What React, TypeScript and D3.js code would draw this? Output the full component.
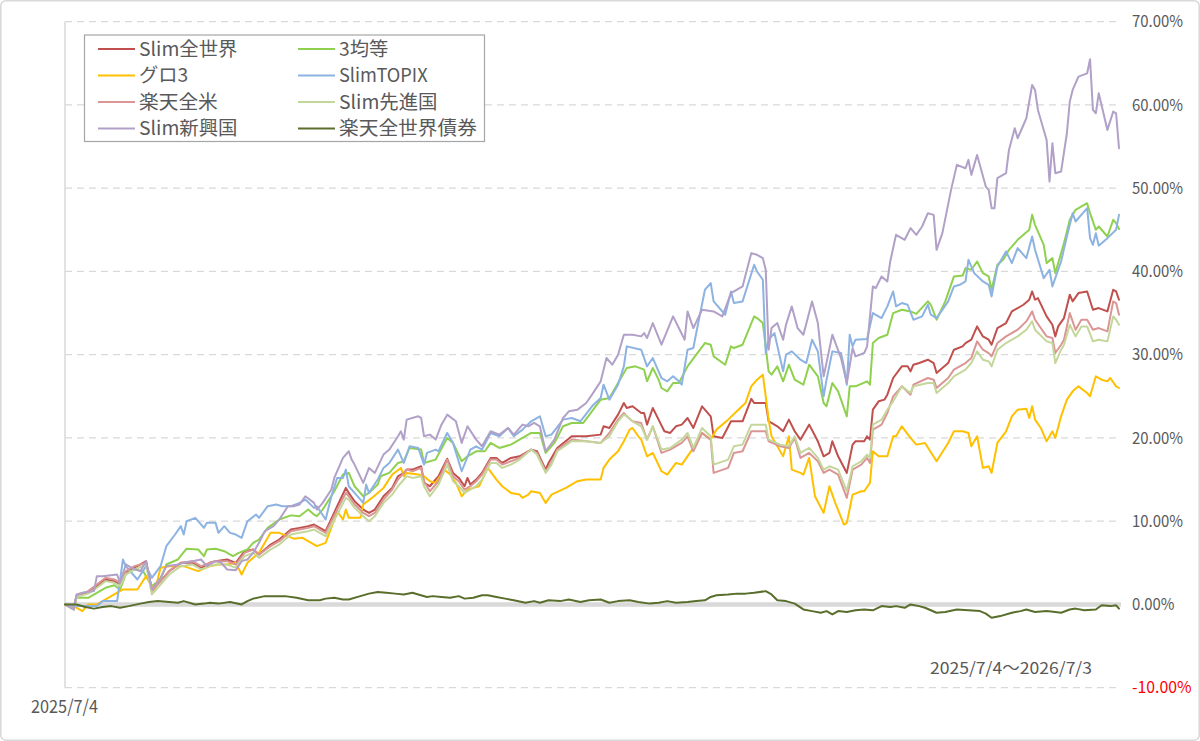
import React from "react";
import * as d3 from "d3";

// ---- data: [days since 2025/7/4, % return] ----
const START = new Date(2025, 6, 4);
const END = new Date(2026, 6, 3);
const yTicks = [-10, 0, 10, 20, 30, 40, 50, 60, 70];
const startLabel = "2025/7/4";
const rangeLabel = "2025/7/4～2026/7/3";

const slimWorld: [number, number][] = [[0,0],[3,-0.6],[4,1.0],[8,1.4],[11,2.2],[14,3.0],[17,2.8],[19,2.4],[21,3.8],[24,4.4],[28,5.2],[30,1.8],[33,2.8],[36,4.0],[40,5.0],[44,5.0],[47,4.4],[50,5.0],[52,5.2],[56,5.4],[59,5.0],[62,6.4],[65,6.6],[67,6.0],[71,7.2],[74,7.8],[78,9.0],[81,9.2],[84,9.4],[86,9.6],[88,9.2],[90,8.8],[94,11.8],[97,14.0],[98,13.4],[100,12.4],[103,11.4],[105,11.0],[107,11.4],[110,13.0],[113,14.0],[115,15.4],[117,15.8],[118,16.2],[120,16.2],[123,16.6],[124,14.6],[126,14.2],[129,15.4],[132,17.5],[134,15.8],[136,15.2],[138,14.2],[139,15.2],[140,14.4],[142,15.0],[144,15.8],[147,17.6],[149,17.6],[151,17.0],[154,17.6],[157,17.8],[161,18.6],[163,18.4],[166,16.2],[167,17.0],[170,18.8],[175,20.2],[180,20.2],[185,20.4],[186,21.4],[188,21.2],[191,22.8],[193,24.2],[194,23.6],[196,23.8],[199,23.0],[200,23.0],[201,21.6],[203,23.6],[205,22.2],[207,20.8],[209,20.6],[211,21.4],[213,21.6],[215,22.4],[217,21.2],[220,23.8],[223,22.6],[224,20.2],[227,20.0],[230,22.0],[234,22.0],[237,24.7],[238,24.2],[242,24.2],[243,22.0],[244,21.8],[246,21.4],[248,20.8],[250,22.2],[252,20.8],[254,19.8],[257,21.6],[260,19.6],[262,17.8],[264,18.2],[265,19.6],[267,17.8],[270,15.8],[272,19.2],[273,19.6],[276,19.6],[277,20.2],[278,19.8],[279,23.4],[281,24.4],[283,24.6],[284,25.2],[286,27.2],[289,28.6],[291,28.6],[292,28.0],[293,28.8],[295,29.0],[298,29.4],[300,29.0],[301,27.8],[305,29.0],[307,30.6],[310,31.0],[311,31.4],[313,31.8],[315,33.4],[317,32.2],[319,31.8],[320,31.2],[322,33.2],[325,33.8],[327,35.2],[331,36.0],[333,36.6],[334,37.6],[335,36.6],[336,36.8],[339,34.6],[341,33.6],[342,32.2],[343,33.4],[345,34.4],[347,37.2],[348,36.4],[350,37.4],[353,37.6],[355,35.4],[357,35.6],[360,35.2],[362,37.8],[363,37.6],[364,36.6]];

const equal3: [number, number][] = [[0,0],[3,-0.2],[4,0.8],[8,0.8],[11,1.4],[14,2.0],[17,2.3],[19,1.8],[21,3.6],[24,4.2],[27,4.0],[30,2.2],[33,3.0],[35,4.8],[39,5.4],[42,6.7],[46,6.6],[48,5.8],[49,6.6],[52,6.7],[55,6.4],[58,5.8],[60,6.2],[63,6.6],[65,7.4],[67,7.8],[70,9.2],[74,10.2],[78,10.7],[81,10.6],[84,11.4],[86,10.8],[87,10.6],[89,11.4],[93,13.6],[96,15.6],[98,15.8],[100,14.2],[103,13.0],[105,13.4],[108,14.4],[109,15.4],[112,15.8],[115,17.0],[117,17.2],[119,18.8],[123,18.6],[124,17.0],[128,17.4],[132,20.0],[134,19.4],[137,17.2],[139,17.8],[142,18.4],[145,18.4],[147,19.4],[150,18.8],[154,19.2],[158,20.0],[161,20.6],[164,20.6],[166,18.2],[169,19.4],[172,21.4],[175,21.8],[179,21.8],[185,24.6],[188,24.8],[191,26.6],[194,28.4],[197,28.6],[200,28.2],[201,26.8],[203,28.4],[205,27.0],[206,26.0],[208,25.6],[210,26.6],[212,26.6],[215,28.6],[218,30.0],[221,31.4],[223,31.2],[224,29.8],[228,28.8],[230,31.0],[231,30.8],[234,31.2],[238,34.6],[239,34.4],[241,33.8],[243,28.0],[244,27.6],[246,28.6],[248,26.8],[250,28.8],[252,27.0],[255,26.4],[257,28.8],[260,27.4],[262,24.2],[263,23.8],[265,26.6],[267,25.6],[270,22.6],[271,26.2],[273,26.2],[277,26.8],[278,26.4],[279,31.4],[281,32.0],[284,32.4],[286,35.0],[289,35.4],[292,35.2],[294,34.9],[298,36.4],[299,36.0],[301,34.2],[304,36.4],[307,39.4],[310,39.5],[311,40.4],[313,40.2],[315,41.2],[317,39.8],[319,39.4],[320,37.8],[322,40.8],[324,41.4],[326,42.6],[329,43.8],[331,44.4],[333,45.0],[334,46.8],[335,45.6],[338,43.2],[339,41.0],[341,41.6],[342,39.8],[345,43.4],[347,46.2],[349,47.4],[353,48.2],[354,47.0],[356,45.0],[357,45.4],[360,44.2],[362,46.2],[363,45.8],[364,45.1]];

const growth3: [number, number][] = [[0,0],[3,-0.2],[6,-0.8],[8,0],[11,0],[13,0.4],[17,1.2],[20,1.8],[25,1.8],[28,3.4],[31,1.6],[33,4.4],[36,4.6],[41,4.6],[46,4.0],[50,4.6],[53,4.8],[56,4.8],[59,5.0],[61,3.6],[63,5.0],[67,6.2],[71,8.6],[74,8.6],[79,7.9],[82,8.0],[87,7.0],[90,7.4],[93,10.2],[94,11.2],[96,10.2],[97,11.4],[98,10.4],[102,10.4],[103,12.0],[106,12.8],[110,14.0],[113,15.6],[116,16.4],[117,15.4],[118,15.8],[122,15.6],[124,15.4],[126,14.8],[128,14.6],[131,16.2],[133,15.6],[135,14.6],[137,13.0],[139,13.8],[141,14.0],[143,14.2],[146,16.4],[149,15.0],[151,14.2],[154,13.4],[157,13.2],[158,12.8],[160,13.2],[161,13.6],[164,13.4],[166,12.2],[168,13.2],[173,14.0],[177,14.8],[180,15.0],[185,15.0],[186,16.4],[188,17.4],[191,18.4],[193,19.6],[195,21.0],[196,21.2],[198,20.2],[199,19.8],[201,17.8],[203,18.2],[206,16.0],[208,15.6],[211,17.0],[213,16.8],[217,18.8],[220,20.6],[223,19.8],[224,20.4],[225,21.0],[229,22.2],[232,23.2],[235,24.2],[237,26.2],[239,27.0],[241,27.6],[242,25.0],[243,22.2],[244,20.2],[246,19.0],[248,17.8],[250,20.2],[251,16.2],[254,15.8],[255,15.6],[257,17.6],[259,13.0],[262,11.0],[264,14.2],[266,12.2],[269,9.6],[270,9.8],[272,13.2],[275,13.6],[276,13.6],[278,14.6],[279,18.4],[281,17.8],[284,17.8],[286,20.2],[287,20.2],[289,21.4],[292,20.0],[294,19.2],[297,19.4],[301,17.2],[305,19.4],[307,20.8],[310,20.8],[312,20.6],[313,19.0],[315,20.2],[317,16.4],[319,16.6],[320,15.8],[322,19.4],[325,20.8],[327,22.6],[329,23.4],[332,23.5],[333,22.4],[334,23.8],[335,22.2],[337,21.2],[339,19.6],[341,20.8],[342,20.0],[344,22.6],[346,24.6],[348,25.6],[350,26.2],[353,25.4],[354,25.0],[356,27.4],[358,27.0],[360,26.8],[361,27.2],[363,26.2],[364,26.0]];

const slimTopix: [number, number][] = [[0,0],[3,-0.2],[6,-0.2],[11,-0.2],[13,0.4],[18,0.4],[20,5.4],[21,4.6],[25,3.0],[28,4.6],[30,3.2],[33,4.6],[35,7.0],[38,8.4],[40,9.4],[41,8.4],[42,10.0],[45,10.4],[48,9.2],[49,9.8],[52,9.8],[53,8.6],[55,9.4],[57,8.6],[59,8.4],[61,8.0],[63,10.0],[66,10.8],[67,10.4],[70,11.8],[73,12.0],[75,11.8],[78,11.8],[81,12.2],[83,12.6],[86,11.6],[87,11.8],[90,10.2],[92,13.0],[94,15.2],[96,15.2],[97,16.2],[98,14.2],[100,13.4],[103,12.2],[104,14.4],[105,13.4],[108,15.0],[110,16.4],[112,17.0],[115,18.6],[117,17.0],[119,19.0],[122,18.8],[124,16.8],[125,18.2],[128,18.6],[129,18.4],[132,20.6],[134,19.4],[137,16.0],[140,18.6],[142,19.0],[144,18.6],[147,20.6],[150,20.2],[153,21.2],[155,20.2],[158,21.0],[161,22.0],[164,22.6],[166,20.2],[168,20.4],[172,22.2],[175,22.4],[178,22.0],[182,23.8],[185,24.8],[186,26.4],[188,24.6],[191,26.4],[193,28.6],[194,31.0],[199,30.6],[201,28.6],[203,29.6],[205,28.0],[206,27.2],[208,26.8],[210,27.4],[212,26.8],[213,26.4],[215,30.6],[217,30.8],[218,32.6],[221,37.8],[223,38.6],[224,36.4],[228,34.8],[230,37.6],[231,36.2],[234,36.4],[238,40.8],[239,40.0],[241,39.0],[242,30.2],[243,31.8],[245,32.6],[248,28.0],[249,30.0],[251,30.4],[254,29.4],[256,29.0],[258,31.8],[260,30.4],[262,25.0],[263,27.0],[265,30.4],[268,30.2],[269,28.6],[270,26.4],[271,32.4],[272,31.0],[273,31.8],[277,31.9],[279,35.0],[282,34.4],[284,35.8],[286,37.6],[287,35.8],[289,36.2],[291,36.0],[293,34.2],[296,34.6],[298,36.0],[299,34.8],[301,34.4],[305,36.4],[307,38.2],[309,38.4],[311,38.8],[312,41.4],[314,39.8],[317,38.8],[319,38.4],[320,37.0],[322,40.6],[325,42.4],[327,41.0],[329,42.8],[332,41.6],[334,44.2],[335,42.6],[338,39.2],[340,40.2],[341,38.2],[344,41.2],[346,44.2],[348,47.0],[349,46.0],[353,47.6],[354,44.0],[355,43.2],[356,44.6],[357,43.1],[360,44.0],[363,45.0],[364,46.8]];

const rakutenUS: [number, number][] = [[0,0],[3,-0.5],[4,1.1],[8,1.6],[11,2.4],[14,3.2],[17,3.0],[19,2.6],[21,4.0],[24,4.6],[28,5.0],[30,1.6],[33,2.8],[36,4.0],[40,5.0],[44,5.2],[47,4.6],[50,5.0],[52,5.2],[56,5.2],[59,4.8],[62,6.2],[65,6.6],[67,6.0],[71,7.0],[74,7.6],[78,8.8],[81,9.0],[84,9.2],[86,9.4],[88,9.0],[90,8.6],[94,11.4],[97,13.4],[98,13.0],[100,12.0],[103,11.0],[105,10.6],[107,11.0],[110,12.6],[113,13.8],[115,15.0],[118,16.2],[120,16.0],[123,16.4],[124,14.8],[126,13.6],[129,14.8],[132,17.4],[134,15.4],[136,14.8],[138,13.8],[140,14.2],[142,14.8],[144,15.6],[147,17.4],[149,17.4],[151,16.8],[154,17.2],[157,17.6],[161,18.6],[163,18.2],[166,16.0],[168,17.0],[170,18.6],[175,19.8],[180,19.6],[185,19.4],[188,20.6],[191,22.2],[193,23.0],[194,22.6],[196,22.0],[199,21.8],[201,19.8],[203,21.4],[206,18.2],[209,18.6],[213,19.4],[215,20.2],[217,18.4],[220,20.6],[223,19.8],[224,15.8],[229,16.4],[231,18.2],[234,18.4],[237,20.8],[242,20.8],[243,19.6],[247,19.0],[250,18.8],[252,20.0],[254,17.6],[257,18.2],[260,17.2],[262,15.8],[264,16.2],[267,15.6],[270,12.8],[272,16.2],[275,16.8],[277,17.6],[278,17.0],[279,21.0],[282,21.6],[284,23.0],[286,25.0],[289,26.2],[292,25.2],[293,26.4],[298,27.2],[300,27.0],[301,26.0],[305,27.2],[307,28.2],[311,29.0],[313,29.6],[315,31.6],[317,30.6],[319,30.2],[320,29.8],[322,31.4],[325,32.2],[329,33.0],[332,34.0],[334,35.2],[335,34.2],[339,32.2],[341,32.0],[342,30.2],[344,31.2],[345,31.8],[347,35.0],[349,33.0],[351,34.2],[353,34.2],[355,33.0],[357,33.2],[360,32.8],[362,36.4],[363,36.2],[364,34.8]];

const slimDeveloped: [number, number][] = [[0,0],[3,-0.6],[4,0.9],[8,1.3],[11,2.0],[14,2.8],[17,2.6],[19,2.2],[21,3.6],[24,4.2],[28,4.8],[30,1.2],[33,2.4],[36,3.6],[40,4.6],[44,4.8],[47,4.2],[50,4.6],[52,4.8],[56,4.8],[59,4.4],[62,5.8],[65,6.2],[67,5.6],[71,6.6],[74,7.2],[78,8.4],[81,8.6],[84,8.8],[86,9.0],[88,8.6],[90,8.2],[94,10.8],[97,12.8],[98,12.6],[100,11.6],[103,10.6],[105,10.0],[107,10.6],[110,12.2],[113,13.2],[115,14.2],[118,15.4],[120,15.2],[123,15.4],[124,14.2],[126,13.0],[129,14.4],[132,16.8],[134,14.8],[136,14.2],[138,13.4],[140,13.8],[142,14.2],[144,15.0],[147,17.0],[149,17.0],[151,16.4],[154,16.8],[157,17.4],[161,18.6],[163,18.0],[166,15.8],[168,16.8],[170,18.4],[175,19.6],[180,19.6],[185,19.4],[188,20.2],[191,22.0],[193,22.8],[194,22.6],[196,22.0],[199,21.4],[201,19.8],[203,21.4],[206,18.6],[209,18.8],[213,19.8],[215,20.6],[217,18.8],[220,21.2],[223,20.2],[224,16.8],[229,17.4],[231,19.0],[234,19.2],[237,21.6],[242,21.6],[243,19.8],[247,19.2],[250,19.0],[252,20.2],[254,18.2],[257,18.8],[260,17.6],[262,16.2],[264,16.6],[267,16.2],[270,13.6],[272,16.6],[275,17.2],[277,18.0],[278,17.6],[279,21.6],[282,22.2],[284,23.4],[286,24.4],[289,26.2],[292,25.4],[293,26.2],[298,26.6],[300,26.6],[301,25.4],[305,26.6],[307,27.4],[311,28.2],[313,29.0],[315,30.4],[317,29.4],[319,29.2],[320,28.6],[322,30.6],[325,31.4],[329,32.2],[332,33.0],[334,34.0],[335,33.0],[339,31.6],[341,31.4],[342,29.0],[344,30.6],[345,31.2],[347,33.6],[349,32.2],[351,33.4],[353,33.4],[355,31.6],[357,31.8],[360,31.6],[362,34.6],[363,34.2],[364,33.6]];

const slimEmerging: [number, number][] = [[0,0],[3,-0.6],[4,1.2],[6,1.4],[10,1.6],[11,3.4],[13,3.4],[18,3.6],[19,2.6],[21,4.8],[23,4.4],[26,4.0],[28,5.2],[30,1.8],[33,3.2],[35,4.6],[39,4.8],[41,5.0],[44,5.2],[47,5.4],[49,4.6],[52,5.2],[54,5.0],[56,4.2],[59,4.1],[61,5.2],[63,5.4],[65,6.2],[67,7.4],[69,8.8],[72,9.4],[74,10.2],[77,11.8],[79,11.8],[81,12.0],[83,13.0],[86,12.2],[87,11.4],[89,12.2],[92,13.8],[93,15.2],[96,17.6],[98,18.4],[99,17.4],[100,16.8],[103,14.6],[105,16.4],[107,15.8],[110,18.0],[112,18.6],[115,20.2],[116,20.8],[117,19.8],[118,22.2],[122,22.6],[123,22.4],[124,20.2],[126,20.4],[128,19.8],[130,21.6],[132,22.8],[135,22.0],[137,19.4],[139,21.4],[142,19.8],[144,19.0],[147,20.8],[150,20.4],[153,21.2],[155,20.4],[158,21.6],[160,21.4],[162,21.8],[164,21.4],[166,18.4],[169,19.8],[172,22.4],[174,23.2],[177,23.4],[180,24.2],[182,25.2],[185,26.8],[187,29.6],[189,28.8],[191,30.0],[193,32.4],[196,32.4],[199,32.2],[200,32.6],[201,32.0],[203,33.8],[206,31.2],[210,34.6],[212,33.2],[214,31.8],[215,35.2],[217,33.2],[220,35.4],[224,35.2],[227,34.6],[230,37.4],[234,38.2],[237,42.2],[239,42.0],[241,41.6],[242,40.2],[243,30.6],[244,33.2],[246,33.8],[248,31.8],[249,33.6],[251,35.8],[253,33.2],[255,32.4],[258,36.4],[260,33.8],[262,27.4],[265,32.4],[268,29.6],[270,26.6],[272,30.8],[273,29.8],[276,30.2],[277,31.0],[279,38.2],[280,38.0],[282,39.4],[284,38.8],[285,41.2],[287,44.4],[290,43.8],[292,45.2],[294,44.4],[296,45.4],[298,47.0],[300,46.8],[301,42.6],[303,44.6],[306,49.8],[308,52.8],[311,52.4],[312,53.4],[313,51.6],[315,54.0],[318,50.2],[319,49.8],[320,47.6],[321,47.6],[322,51.2],[325,51.8],[326,54.6],[328,57.2],[329,56.0],[332,58.4],[334,62.4],[335,61.8],[336,59.4],[339,55.8],[340,50.8],[341,55.4],[342,51.8],[344,52.0],[346,56.6],[347,60.4],[348,61.8],[350,63.4],[353,63.8],[354,65.5],[355,59.4],[356,59.0],[357,61.4],[360,57.0],[362,59.2],[363,59.0],[364,54.8]];

const rakutenBond: [number, number][] = [[0,0],[4,0],[7,-0.3],[10,-0.5],[13,-0.3],[16,-0.2],[19,-0.4],[22,-0.2],[26,0.1],[29,0.3],[32,0.4],[36,0.3],[39,0.2],[41,0.4],[45,0],[48,0.1],[50,0.2],[53,0.1],[57,0.3],[61,0],[63,0.4],[65,0.7],[69,1.0],[72,1.0],[76,1.0],[80,0.8],[84,0.5],[88,0.5],[90,0.7],[93,0.8],[96,0.6],[98,0.6],[102,1.0],[105,1.3],[108,1.5],[111,1.4],[114,1.3],[117,1.2],[120,1.4],[122,1.2],[125,0.9],[127,1.0],[130,0.9],[133,0.8],[136,1.0],[138,0.7],[141,0.8],[144,1.1],[146,1.1],[149,0.9],[152,0.7],[155,0.5],[159,0.2],[162,0.4],[164,0.2],[167,0.5],[171,0.4],[174,0.6],[178,0.3],[181,0.5],[185,0.6],[188,0.2],[191,0.4],[195,0.5],[198,0.3],[202,0.1],[205,0.2],[208,0.4],[211,0.2],[215,0.3],[218,0.4],[221,0.5],[223,0.9],[225,1.1],[229,1.2],[232,1.3],[235,1.3],[238,1.4],[242,1.6],[244,1.2],[246,0.5],[249,0.4],[252,0.1],[255,-0.6],[258,-0.8],[261,-1.0],[263,-0.8],[265,-1.2],[267,-0.8],[270,-0.9],[273,-0.7],[276,-0.6],[279,-0.7],[282,-0.2],[285,-0.3],[287,-0.2],[290,-0.4],[292,0],[295,-0.2],[297,-0.4],[299,-0.7],[301,-1.0],[304,-0.9],[308,-0.6],[312,-0.7],[316,-0.8],[318,-1.1],[320,-1.6],[323,-1.4],[327,-1.0],[330,-0.8],[332,-0.6],[335,-0.9],[339,-0.8],[342,-0.9],[344,-1.0],[347,-0.6],[349,-0.5],[352,-0.7],[356,-0.6],[358,-0.1],[361,-0.2],[363,-0.1],[364,-0.5]];

const seriesNames = ["Slim全世界", "3均等", "グロ3", "SlimTOPIX", "楽天全米", "Slim先進国", "Slim新興国", "楽天全世界債券"];
const seriesColors = ["#c0504d", "#8fd14f", "#ffc000", "#8db3e2", "#da9694", "#c4d79b", "#b1a0c7", "#5a6e2c"];
const seriesData = [slimWorld, equal3, growth3, slimTopix, rakutenUS, slimDeveloped, slimEmerging, rakutenBond];

const FONT = "'Noto Sans CJK JP', 'Noto Sans', sans-serif";

// width in em for a monospaced Japanese font: ASCII half-width, others full-width
const emWidth = (s: string) =>
  Array.from(s).reduce((acc, ch) => acc + (ch.charCodeAt(0) < 128 ? 0.5 : 1), 0);

export default function App() {
  const W = 1200, H = 741;
  const x0 = 65, x1 = 1119;
  const x = d3.scaleTime().domain([START, END]).range([x0, x1]);
  const y = d3.scaleLinear().domain([-10, 70]).range([687.7, 21.7]);
  const dayToDate = (d: number) => d3.timeDay.offset(START, d);
  const line = d3
    .line<[number, number]>()
    .x((p) => x(dayToDate(p[0])))
    .y((p) => y(p[1]));

  const gridRight = 1121;
  const legendRows = [49, 75.5, 102, 128.5];
  const legendCols = [98, 298];
  const legendFont = 19.7;

  return (
    <svg
      width={W}
      height={H}
      viewBox={`0 0 ${W} ${H}`}
      style={{ position: "fixed", left: 0, top: 0, background: "#fff" }}
      fontFamily={FONT}
    >
      <rect x={0} y={0} width={W} height={H} fill="#fff" />
      <rect x={0.8} y={0.8} width={W - 1.6} height={H - 1.6} rx={5} fill="none" stroke="#d9d9d9" strokeWidth={1.6} />

      {/* gridlines */}
      {yTicks.filter((t) => t !== 0).map((t) => (
        <line key={t} x1={x0} x2={gridRight} y1={y(t)} y2={y(t)} stroke="#d9d9d9" strokeWidth={1.3} strokeDasharray="7,5" />
      ))}
      {/* zero band */}
      <line x1={x0} x2={gridRight} y1={y(0)} y2={y(0)} stroke="#d9d9d9" strokeWidth={4.5} />
      {/* left axis */}
      <line x1={x0} x2={x0} y1={y(70)} y2={y(-10)} stroke="#d9d9d9" strokeWidth={1.5} />

      {/* y tick labels */}
      {yTicks.map((t) => {
        const label = `${t.toFixed(2)}%`;
        return (
          <text
            key={t}
            x={1132}
            y={y(t)}
            dy="0.36em"
            fontSize={16}
            fill={t < 0 ? "#ff0000" : "#595959"}
            textLength={label.length * 8.5}
            lengthAdjust="spacingAndGlyphs"
          >
            {label}
          </text>
        );
      })}

      {/* series */}
      {seriesData.map((s, i) => (
        <path key={seriesNames[i]} d={line(s) || ""} fill="none" stroke={seriesColors[i]} strokeWidth={2} strokeLinejoin="round" strokeLinecap="round" />
      ))}

      {/* legend */}
      <rect x={84.5} y={35} width={400} height={106.5} fill="#fff" stroke="#a6a6a6" strokeWidth={1.2} />
      {seriesNames.map((name, i) => {
        const col = i % 2;
        const row = Math.floor(i / 2);
        const lx = legendCols[col];
        const ly = legendRows[row];
        return (
          <g key={name}>
            <line x1={lx} x2={lx + 37} y1={ly} y2={ly} stroke={seriesColors[i]} strokeWidth={2} />
            <text
              x={lx + 41}
              y={ly}
              dy="0.36em"
              fontSize={19}
              fill="#595959"
              textLength={emWidth(name) * legendFont}
              lengthAdjust="spacingAndGlyphs"
            >
              {name}
            </text>
          </g>
        );
      })}

      {/* date labels */}
      <text x={930} y={668} dy="0.36em" fontSize={16.5} fill="#595959" textLength={162} lengthAdjust="spacingAndGlyphs">
        {rangeLabel}
      </text>
      <text x={31} y={707} dy="0.36em" fontSize={18} fill="#595959" textLength={67} lengthAdjust="spacingAndGlyphs">
        {startLabel}
      </text>
    </svg>
  );
}
